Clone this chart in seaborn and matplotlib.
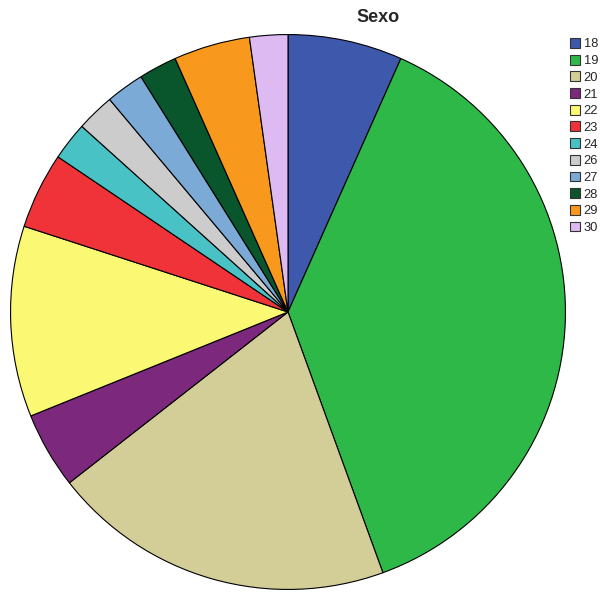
import matplotlib
matplotlib.use("Agg")
import matplotlib.pyplot as plt
import seaborn as sns
from matplotlib.patches import Patch

# ages and counts (n = 45)
ages = ["18", "19", "20", "21", "22", "23", "24", "26", "27", "28", "29", "30"]
counts = [3, 17, 9, 2, 5, 2, 1, 1, 1, 1, 2, 1]
colors = ["#3E58AC", "#2EB848", "#D3CE97", "#7C287D", "#FBF873", "#EF3338",
          "#48C2C5", "#CCCCCC", "#7AAAD5", "#0A562C", "#F8981D", "#DDBAF1"]

sns.set_style("white")
plt.rcParams['font.family'] = ['Arial', 'Liberation Sans', 'DejaVu Sans']

fig = plt.figure(figsize=(6.02, 5.92), dpi=100)
ax = fig.add_axes([10 / 602, 2 / 592, 556 / 602, 556 / 592])

palette = sns.color_palette(colors)
ax.pie(counts, colors=palette, startangle=90, counterclock=False,
       wedgeprops=dict(edgecolor="black", linewidth=0.8))
ax.set_xlim(-1.002, 1.002)
ax.set_ylim(-1.002, 1.002)
ax.set_aspect("equal")
ax.axis("off")

fig.text(378 / 602, 1 - 18 / 592, "Sexo", ha="center", va="center",
         fontsize=13, fontweight="bold")

handles = [Patch(facecolor=c, edgecolor="#333333", linewidth=0.8) for c in palette]
fig.legend(handles, ages, loc="upper left", bbox_to_anchor=(570 / 602, 1 - 38 / 592),
           frameon=False, fontsize=9.3, handlelength=0.8, handleheight=0.8,
           handletextpad=0.25, labelspacing=0.33, borderpad=0, borderaxespad=0)

fig.savefig("out.png", dpi=100)
